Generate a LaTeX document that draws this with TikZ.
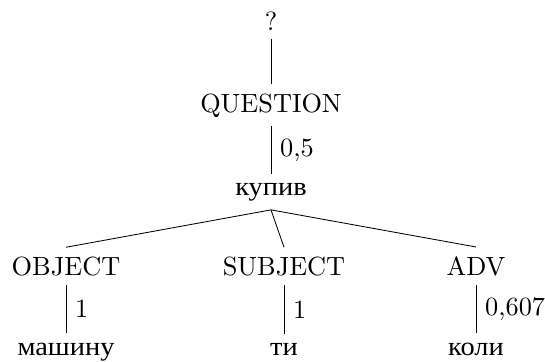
\documentclass[tikz,border=0pt]{standalone}
\usepackage{fontspec}
\newfontfamily\cyr[FakeStretch=1.08]{Liberation Serif}

\begin{document}
\begin{tikzpicture}[x=0.38pt,y=-0.38pt,line width=0.32pt]
  \tikzset{word/.style={anchor=base}, weight/.style={right,midway}}
  \useasboundingbox (0,0) rectangle (545,361);
  % root and its chain
  \node[word] (top) at (271,30) {?};
  \node[word] (question) at (271,112) {QUESTION};
  \node[word] (kupyv) at (271,195) {\cyr купив};
  \draw (top.south) -- (question.north);
  \draw (question.south) -- node[weight] {0,5} (kupyv.north);
  % the three dependents
  \foreach \name/\lab/\x/\word/\w in {object/OBJECT/66/машину/1,
      subject/SUBJECT/284/ти/1, adv/ADV/476/коли/{0,607}} {
      \node[word] (\name) at (\x,275) {\lab};
      \node[word] (\name-w) at (\x,355) {\cyr \word};
      \draw (kupyv.south) -- (\name.north);
      \draw (\name.south) -- node[weight] {\w} (\name-w.north);
  }
\end{tikzpicture}
\end{document}
